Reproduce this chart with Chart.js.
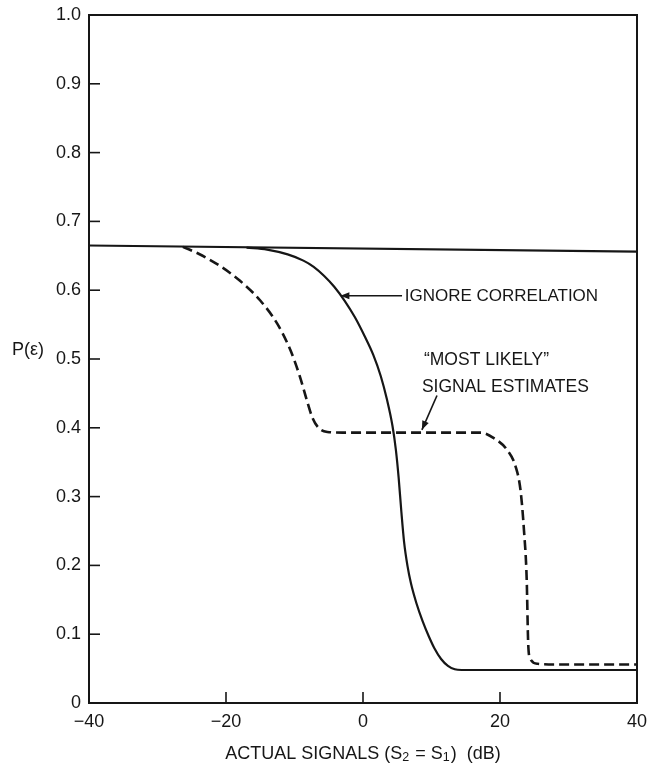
<!DOCTYPE html>
<html>
<head>
<meta charset="utf-8">
<script src="https://cdn.jsdelivr.net/npm/chart.js@4"></script>
<style>
  html, body { margin: 0; padding: 0; background: #fff; }
  #wrap { width: 648px; height: 769px; }
</style>
</head>
<body>
<div id="wrap"><canvas id="c" width="648" height="769"></canvas></div>
<script>
// ---- data ----
const xTickValues = [-40, -20, 0, 20, 40];
const yTickValues = [0, 0.1, 0.2, 0.3, 0.4, 0.5, 0.6, 0.7, 0.8, 0.9, 1.0];

const upperX = [-40, 40];
const upperY = [0.665, 0.656];

const ignoreX = [-17, -14, -11, -8.7, -7.2, -5.7, -4.2, -2.7, -1.2, 0.3, 1.5, 2.6, 3.5, 4.3, 4.8, 5.2, 5.6, 6.0, 6.5, 7.0, 7.8, 8.7, 9.6, 10.4, 11.4, 12.4, 13.4, 14.4, 40];
const ignoreY = [0.662, 0.659, 0.652, 0.643, 0.634, 0.621, 0.605, 0.585, 0.561, 0.532, 0.506, 0.475, 0.441, 0.403, 0.368, 0.328, 0.278, 0.234, 0.199, 0.174, 0.145, 0.119, 0.097, 0.080, 0.064, 0.054, 0.049, 0.048, 0.048];

const likelyX = [-26.3, -24, -21, -18, -15, -12.5, -10.6, -9.2, -8.2, -7.4, -6.5, -5.2, -3, 17.2, 19.1, 21.1, 22.3, 23.0, 23.5, 23.9, 24.1, 24.3, 25.5, 28.4, 40];
const likelyY = [0.663, 0.653, 0.636, 0.614, 0.585, 0.551, 0.513, 0.474, 0.440, 0.415, 0.400, 0.394, 0.393, 0.393, 0.385, 0.367, 0.343, 0.309, 0.251, 0.179, 0.091, 0.067, 0.057, 0.056, 0.056];

const labelIgnore = 'IGNORE CORRELATION';
const labelLikely1 = '\u201CMOST LIKELY\u201D';
const labelLikely2 = 'SIGNAL ESTIMATES';
const yAxisLabel = 'P(\u03B5)';
const xAxisLabelParts = [['ACTUAL SIGNALS (S', false], ['2', true], [' = S', false], ['1', true], [')  (dB)', false]];

const FONT = '"Liberation Sans", Arial, Helvetica, sans-serif';
const INK = '#161616';

function pts(xs, ys) { return xs.map((x, i) => ({ x: x, y: ys[i] })); }

const decorPlugin = {
  id: 'decor',
  afterDraw(chart) {
    const ctx = chart.ctx;
    const a = chart.chartArea;
    const xs = chart.scales.x, ys = chart.scales.y;
    ctx.save();
    ctx.strokeStyle = INK;
    ctx.fillStyle = INK;
    ctx.lineWidth = 2;
    // frame
    ctx.strokeRect(a.left, a.top, a.right - a.left, a.bottom - a.top);
    // inward tick marks
    ctx.lineWidth = 1.6;
    xTickValues.forEach(v => {
      const px = xs.getPixelForValue(v);
      ctx.beginPath(); ctx.moveTo(px, a.bottom); ctx.lineTo(px, a.bottom - 11); ctx.stroke();
    });
    yTickValues.forEach(v => {
      const py = ys.getPixelForValue(v);
      ctx.beginPath(); ctx.moveTo(a.left, py); ctx.lineTo(a.left + 11, py); ctx.stroke();
    });
    // y axis label (horizontal)
    ctx.font = '18px ' + FONT;
    ctx.textBaseline = 'middle';
    ctx.textAlign = 'left';
    ctx.fillText(yAxisLabel, 12, ys.getPixelForValue(0.513));

    // x axis title with subscripts
    const mainF = '18px ' + FONT, subF = '12.5px ' + FONT;
    let total = 0;
    xAxisLabelParts.forEach(([t, sub]) => { ctx.font = sub ? subF : mainF; total += ctx.measureText(t).width + (sub ? 1 : 0); });
    let cx = (a.left + a.right) / 2 - total / 2;
    const ty = 754;
    xAxisLabelParts.forEach(([t, sub]) => {
      ctx.font = sub ? subF : mainF;
      ctx.fillText(t, cx, sub ? ty + 4 : ty);
      cx += ctx.measureText(t).width + (sub ? 1 : 0);
    });

    // annotations
    ctx.font = '17px ' + FONT;
    const tipX = xs.getPixelForValue(-3.3), tipY = ys.getPixelForValue(0.592);
    const tailX = xs.getPixelForValue(5.7);
    ctx.lineWidth = 1.6;
    ctx.beginPath(); ctx.moveTo(tailX, tipY); ctx.lineTo(tipX + 4, tipY); ctx.stroke();
    ctx.beginPath();
    ctx.moveTo(tipX, tipY); ctx.lineTo(tipX + 9, tipY - 3.5); ctx.lineTo(tipX + 9, tipY + 3.5); ctx.closePath(); ctx.fill();
    ctx.fillText(labelIgnore, xs.getPixelForValue(6.1), tipY + 1);

    ctx.font = '17.5px ' + FONT;
    ctx.fillText(labelLikely1, xs.getPixelForValue(8.9), ys.getPixelForValue(0.498));
    ctx.fillText(labelLikely2, xs.getPixelForValue(8.6), ys.getPixelForValue(0.459));

    const lTipX = xs.getPixelForValue(8.6), lTipY = ys.getPixelForValue(0.397);
    const lTailX = xs.getPixelForValue(10.8), lTailY = ys.getPixelForValue(0.447);
    ctx.beginPath(); ctx.moveTo(lTailX, lTailY); ctx.lineTo(lTipX, lTipY); ctx.stroke();
    const ang = Math.atan2(lTipY - lTailY, lTipX - lTailX);
    ctx.beginPath();
    ctx.moveTo(lTipX, lTipY);
    ctx.lineTo(lTipX - 9 * Math.cos(ang) + 3.5 * Math.sin(ang), lTipY - 9 * Math.sin(ang) - 3.5 * Math.cos(ang));
    ctx.lineTo(lTipX - 9 * Math.cos(ang) - 3.5 * Math.sin(ang), lTipY - 9 * Math.sin(ang) + 3.5 * Math.cos(ang));
    ctx.closePath(); ctx.fill();
    ctx.restore();
  }
};

new Chart(document.getElementById('c'), {
  type: 'line',
  data: {
    datasets: [
      { data: pts(upperX, upperY), borderColor: INK, borderWidth: 2.2, pointRadius: 0, fill: false },
      { data: pts(ignoreX, ignoreY), borderColor: INK, borderWidth: 2.2, pointRadius: 0, fill: false, cubicInterpolationMode: 'monotone' },
      { data: pts(likelyX, likelyY), borderColor: INK, borderWidth: 2.6, borderDash: [10, 5], pointRadius: 0, fill: false, cubicInterpolationMode: 'monotone' }
    ]
  },
  options: {
    responsive: false,
    animation: false,
    devicePixelRatio: 1,
    layout: { padding: { top: 15, right: 11, left: 0, bottom: 0 } },
    plugins: { legend: { display: false }, tooltip: { enabled: false } },
    scales: {
      x: {
        type: 'linear', min: -40, max: 40,
        afterFit: s => { s.height = 66; s.paddingLeft = 0; s.paddingRight = 0; },
        afterBuildTicks: s => { s.ticks = xTickValues.map(v => ({ value: v })); },
        grid: { display: false, drawTicks: false },
        border: { display: false },
        ticks: {
          color: INK, padding: 8,
          font: { family: FONT, size: 18 },
          callback: v => (v < 0 ? '\u2212' + Math.abs(v) : String(v))
        }
      },
      y: {
        type: 'linear', min: 0, max: 1,
        afterFit: s => { s.width = 89; s.paddingTop = 0; s.paddingBottom = 0; },
        afterBuildTicks: s => { s.ticks = yTickValues.map(v => ({ value: v })); },
        grid: { display: false, drawTicks: false },
        border: { display: false },
        ticks: {
          color: INK, padding: 8,
          font: { family: FONT, size: 18 },
          callback: v => (v === 0 ? '0' : v.toFixed(1))
        }
      }
    }
  },
  plugins: [decorPlugin]
});
</script>
</body>
</html>
